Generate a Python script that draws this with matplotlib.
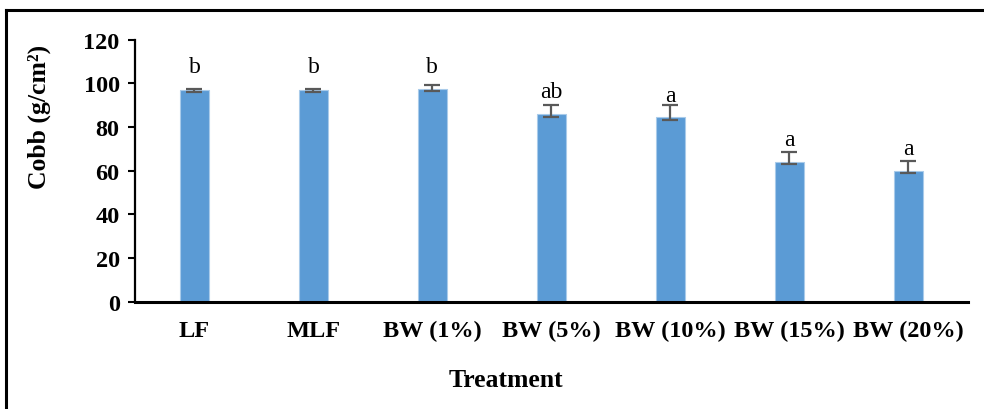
import matplotlib
matplotlib.use("Agg")
import matplotlib.pyplot as plt
from matplotlib.lines import Line2D

# Datos
tratamientos = ["LF", "MLF", "BW (1%)", "BW (5%)", "BW (10%)", "BW (15%)", "BW (20%)"]
cobb = [96.8, 96.9, 97.3, 85.8, 84.5, 64.1, 59.9]
err_abajo = [0.9, 0.7, 0.9, 1.1, 1.1, 1.0, 0.9]
err_arriba = [0.4, 0.4, 2.1, 4.4, 5.6, 4.6, 4.7]
letras = ["b", "b", "b", "ab", "a", "a", "a"]
altura_letras = [105.2, 105.2, 105.0, 93.6, 92.1, 71.9, 67.7]

plt.rcParams["font.family"] = ["Liberation Serif", "DejaVu Serif"]

fig = plt.figure(figsize=(9.84, 4.10), dpi=100)
ax = fig.add_axes([0.1372, 0.2617, 0.9834 - 0.1372, 0.9007 - 0.2617])

x = range(len(tratamientos))
ax.bar(x, cobb, width=0.245, color="#5B9BD5", edgecolor="#A9CBEA", linewidth=0.8, zorder=2)
ax.errorbar(x, cobb, yerr=[err_abajo, err_arriba], fmt="none", ecolor="#595959",
            elinewidth=1.6, capsize=5.5, capthick=1.6, zorder=3)

for xi, letra, h in zip(x, letras, altura_letras):
    ax.text(xi, h, letra, ha="center", va="baseline", fontsize=17)

ax.set_xlim(-0.5, 6.5)
ax.set_ylim(0, 120)
ax.set_yticks(range(0, 121, 20))
ax.set_xticks(list(x))
ax.set_xticklabels(tratamientos)

for s in ["top", "right"]:
    ax.spines[s].set_visible(False)
ax.spines["left"].set_linewidth(1.6)
ax.spines["bottom"].set_linewidth(2.2)

ax.tick_params(axis="y", direction="out", length=5, width=1.5, labelsize=17.5, pad=6)
ax.tick_params(axis="x", length=0, labelsize=17.5, pad=13)
for t in ax.get_xticklabels() + ax.get_yticklabels():
    t.set_fontweight("bold")

# Titulos de ejes, ubicados como en el original (no centrados en el eje)
fig.text(506 / 984, 1 - 381 / 410, "Treatment", fontsize=18.5, fontweight="bold",
         ha="center", va="center")
fig.text(39 / 984, 1 - 117 / 410, "Cobb (g/cm²)", fontsize=18.5, fontweight="bold",
         ha="center", va="center", rotation=90)

# Marco exterior (solo arriba e izquierda visibles)
fig.add_artist(Line2D([6 / 984, 1.0], [1 - 10.5 / 410] * 2, color="black", lw=2.2,
                      transform=fig.transFigure))
fig.add_artist(Line2D([6 / 984] * 2, [0, 1 - 10.5 / 410], color="black", lw=2.2,
                      transform=fig.transFigure))

fig.savefig("out.png", dpi=100)
